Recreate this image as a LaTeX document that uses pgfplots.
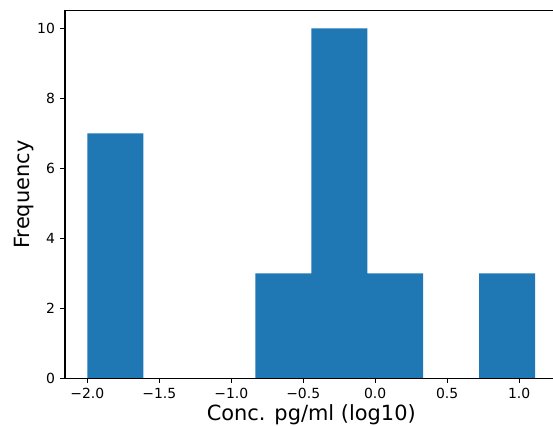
\documentclass[border=0pt]{standalone}
\usepackage{fontspec}
\setmainfont{DejaVu Sans}
\usepackage{pgfplots}
\pgfplotsset{compat=1.18}
\definecolor{c0}{HTML}{1F77B4}
\begin{document}
\begin{tikzpicture}
\begin{axis}[name=ax, scale only axis, width=353.4pt, height=263.6pt,
  xmin=-2.1556, xmax=1.2676, ymin=0, ymax=10.5,
  axis on top,
  axis line style={line width=0.8pt, black},
  tick style={line width=0.8pt, black},
  major tick length=3.5pt, tick align=outside, tick pos=left,
  xtick={-2,-1.5,-1,-0.5,0,0.5,1},
  xticklabels={−2.0,−1.5,−1.0,−0.5,0.0,0.5,1.0},
  ytick={0,2,4,6,8,10},
  yticklabels={0,2,4,6,8,10},
  tick label style={font=\fontsize{10}{12}\selectfont, inner sep=0pt},
  xticklabel style={anchor=north, yshift=-3.5pt},
  yticklabel style={anchor=east, xshift=-3.5pt},
  xlabel={Conc. pg/ml (log10)},
  ylabel={Frequency},
  every axis x label/.style={at={(rel axis cs:0.5,0)}, yshift=-30.6pt, anchor=base, font=\fontsize{15}{18}\selectfont},
  every axis y label/.style={at={(rel axis cs:0,0.5)}, xshift=-25.7pt, anchor=base, rotate=90, font=\fontsize{15}{18}\selectfont},
]
\addplot[ybar interval, fill=c0, draw=none] coordinates {
  (-2.000,7) (-1.611,0) (-1.222,0) (-0.833,3) (-0.444,10)
  (-0.055,3) (0.334,0) (0.723,3) (1.112,3)
};
\end{axis}
\pgfresetboundingbox
\path ([xshift=-46.6pt,yshift=-33.8pt]ax.south west) rectangle ([xshift=-3.3pt,yshift=7.8pt]ax.north east);
\end{tikzpicture}
\end{document}
